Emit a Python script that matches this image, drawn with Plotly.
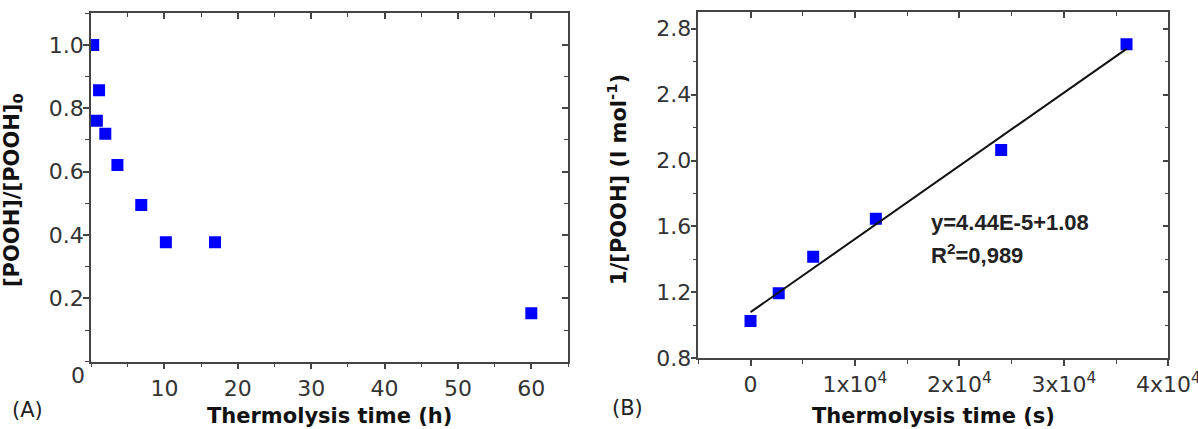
import plotly.graph_objects as go

# ---------------- data ----------------
# Panel A: normalised hydroperoxide concentration vs thermolysis time (h)
time_h = [0.3, 1.1, 0.8, 1.95, 3.6, 6.85, 10.2, 16.9, 60.0]
pooh_ratio = [1.0, 0.857, 0.761, 0.72, 0.621, 0.495, 0.377, 0.377, 0.153]

# Panel B: 1/[POOH] vs thermolysis time (s)
time_s = [0, 2700, 6000, 12000, 24000, 36000]
inv_pooh = [1.026, 1.195, 1.417, 1.647, 2.064, 2.706]

# Linear fit shown in panel B
fit_slope = 4.44e-5
fit_intercept = 1.08
fit_x = [0, 36000]
fit_y = [fit_slope * x + fit_intercept for x in fit_x]

# Tick labels
a_x_tickvals = [10, 20, 30, 40, 50, 60]
a_x_ticktext = ["10", "20", "30", "40", "50", "60"]
a_y_tickvals = [0.2, 0.4, 0.6, 0.8, 1.0]
a_y_ticktext = ["0.2", "0.4", "0.6", "0.8", "1.0"]
a_origin_label = "0"
b_x_tickvals = [0, 10000, 20000, 30000, 40000]
b_x_ticktext = ["0", "1x10<sup>4</sup>", "2x10<sup>4</sup>", "3x10<sup>4</sup>", "4x10<sup>4</sup>"]
b_y_tickvals = [0.8, 1.2, 1.6, 2.0, 2.4, 2.8]
b_y_ticktext = ["0.8", "1.2", "1.6", "2.0", "2.4", "2.8"]

# ---------------- layout helpers ----------------
W, H = 1198, 429


def fx(p):
    return p / W


def fy(p):
    return 1 - p / H


A_dom_x = [fx(91), fx(568)]
A_dom_y = [fy(361.7), fy(13.3)]
B_dom_x = [fx(698.3), fx(1168.3)]
B_dom_y = [fy(358.3), fy(12.3)]

LINE = "#444444"
TICKFONT = dict(family="DejaVu Sans", size=22, color="#333333")
TITLEFONT = dict(family="DejaVu Sans", size=21, color="#111111")


def base_axis(rng, domain, tickvals, ticktext, minor_dtick, ticks="outside", labels=True,
              standoff=0, **kw):
    d = dict(
        range=rng, domain=domain, showline=True, linecolor=LINE, linewidth=1.5,
        ticks=ticks, ticklen=6, tickwidth=1.5, tickcolor=LINE,
        tickmode="array", tickvals=tickvals, ticktext=ticktext,
        showticklabels=labels, tickfont=TICKFONT, ticklabeloverflow="allow",
        ticklabelstandoff=standoff, automargin=False,
        showgrid=False, zeroline=False, fixedrange=True,
        minor=dict(ticks=ticks, ticklen=4, tickwidth=1.2, tickcolor=LINE,
                   dtick=minor_dtick, tick0=0, showgrid=False),
    )
    d.update(kw)
    return d


fig = go.Figure()

fig.add_trace(go.Scatter(
    x=time_h, y=pooh_ratio, mode="markers", xaxis="x", yaxis="y",
    marker=dict(symbol="square", size=12, color="#0000FF", line=dict(width=0)),
))
fig.add_trace(go.Scatter(
    x=time_s, y=inv_pooh, mode="markers", xaxis="x2", yaxis="y2",
    marker=dict(symbol="square", size=12, color="#0000FF", line=dict(width=0)),
))
fig.add_trace(go.Scatter(
    x=fit_x, y=fit_y, mode="lines", xaxis="x2", yaxis="y2",
    line=dict(color="#111111", width=2),
))

A_xr, A_yr = [0, 65], [0, 1.1]
B_xr, B_yr = [-5000, 40000.5], [0.8, 2.9]

fig.update_layout(
    width=W, height=H,
    margin=dict(l=0, r=0, t=0, b=0),
    paper_bgcolor="white", plot_bgcolor="white",
    showlegend=False,
    xaxis=base_axis(A_xr, A_dom_x, a_x_tickvals, a_x_ticktext, 5, anchor="y", standoff=0),
    yaxis=base_axis(A_yr, A_dom_y, a_y_tickvals, a_y_ticktext, 0.1, anchor="x", standoff=-5),
    xaxis2=base_axis(B_xr, B_dom_x, b_x_tickvals, b_x_ticktext, 5000, anchor="y2", standoff=0),
    yaxis2=base_axis(B_yr, B_dom_y, b_y_tickvals, b_y_ticktext, 0.2, anchor="x2", standoff=-5),
    # mirrored frame axes with inward ticks
    xaxis3=base_axis(A_xr, A_dom_x, a_x_tickvals, a_x_ticktext, 5, ticks="inside", labels=False,
                     overlaying="x", side="top", anchor="y"),
    yaxis3=base_axis(A_yr, A_dom_y, a_y_tickvals, a_y_ticktext, 0.1, ticks="inside", labels=False,
                     overlaying="y", side="right", anchor="x"),
    xaxis4=base_axis(B_xr, B_dom_x, b_x_tickvals, b_x_ticktext, 5000, ticks="inside", labels=False,
                     overlaying="x2", side="top", anchor="y2"),
    yaxis4=base_axis(B_yr, B_dom_y, b_y_tickvals, b_y_ticktext, 0.2, ticks="inside", labels=False,
                     overlaying="y2", side="right", anchor="x2"),
)

# invisible traces so the mirror axes are drawn
fig.add_trace(go.Scatter(x=[], y=[], xaxis="x3", yaxis="y3", hoverinfo="skip"))
fig.add_trace(go.Scatter(x=[], y=[], xaxis="x4", yaxis="y4", hoverinfo="skip"))

ann = []


def text(x, y, s, font, **kw):
    d = dict(x=fx(x), y=fy(y), xref="paper", yref="paper", text=s, showarrow=False,
             font=font, xanchor="center", yanchor="middle")
    d.update(kw)
    ann.append(d)


text(329.5, 416, "<b>Thermolysis time (h)</b>", TITLEFONT)
text(933, 416, "<b>Thermolysis time (s)</b>", TITLEFONT)
text(13, 190, "<b>[POOH]/[POOH]<sub>0</sub></b>", TITLEFONT, textangle=-90)
text(617, 180, "<b>1/[POOH] (l mol<sup>-1</sup>)</b>", TITLEFONT, textangle=-90)
text(27, 410, "(A)", dict(family="DejaVu Sans", size=21, color="#222222"))
text(627, 408, "(B)", dict(family="DejaVu Sans", size=21, color="#222222"))
text(78, 375, a_origin_label, TICKFONT)
FITFONT = dict(family="Liberation Sans", size=22, color="#222222")
text(929, 222, "<b>y=4.44E-5+1.08</b>", FITFONT, xanchor="left")
text(929, 254, "<b>R<sup>2</sup>=0,989</b>", FITFONT, xanchor="left")

fig.update_layout(annotations=ann)

fig.write_html("out.html")
